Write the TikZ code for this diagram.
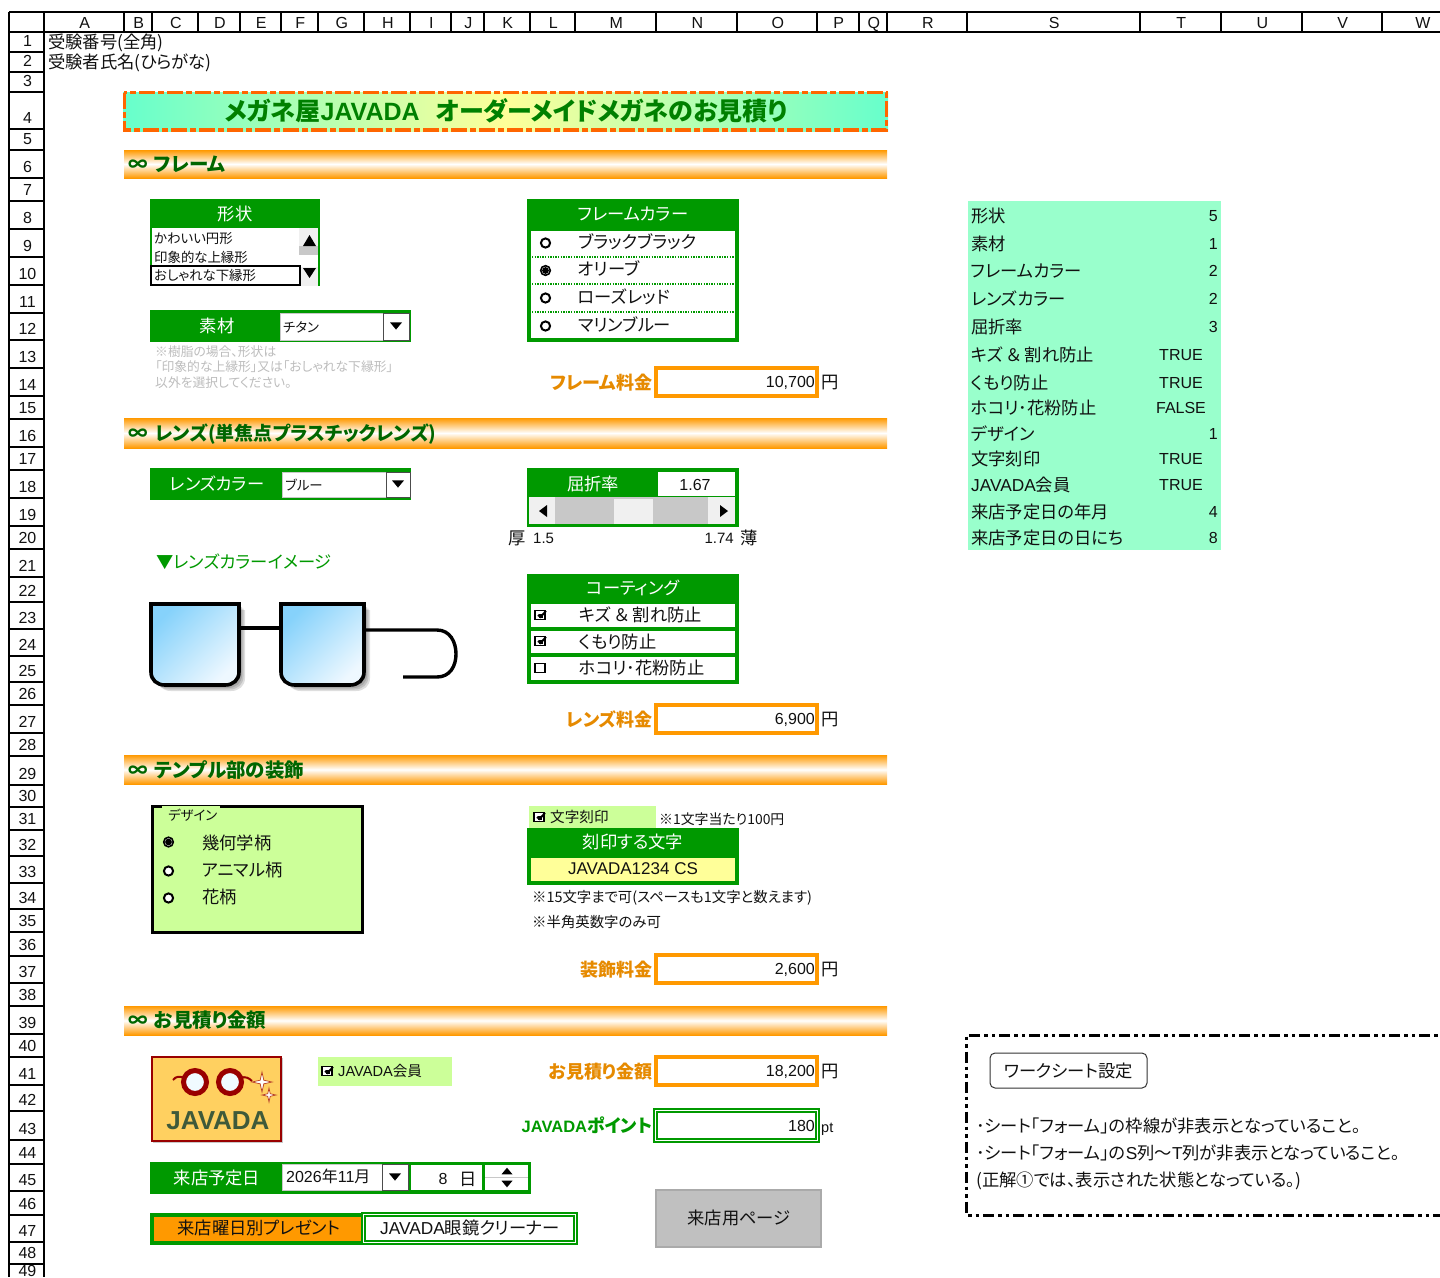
\documentclass[tikz,border=0pt]{standalone}
\usepackage{fontspec}
\setmainfont[RawFeature={+palt}]{Noto Sans CJK JP}
\newfontfamily\lat{Liberation Sans}
\definecolor{frmgreen}{HTML}{009900}
\definecolor{ttlgreen}{HTML}{008000}
\definecolor{secgreen}{HTML}{006600}
\definecolor{frmorange}{HTML}{FF9900}
\definecolor{lblorange}{HTML}{E68A00}
\definecolor{dashorange}{HTML}{FF6600}
\definecolor{mint}{HTML}{99FFCC}
\definecolor{ttlmint}{HTML}{66FFCC}
\definecolor{ttlyellow}{HTML}{FFFF99}
\definecolor{lime}{HTML}{CCFF99}
\definecolor{ctlgray}{HTML}{C8C8C8}
\definecolor{btngray}{HTML}{F0F0F0}
\definecolor{notegray}{HTML}{BDBDBD}
\definecolor{txtblack}{HTML}{111111}
\definecolor{logored}{HTML}{990000}
\definecolor{logofill}{HTML}{FFD060}
\definecolor{logotext}{HTML}{3F5A3A}
\definecolor{lensblue}{HTML}{86D2FB}
\definecolor{lenspale}{HTML}{EEF8FF}
\newcommand{\trdn}[3][5]{\fill (#2-#1,#3-#1*0.6) -- (#2+#1,#3-#1*0.6) -- (#2,#3+#1*0.6) -- cycle;}
\newcommand{\trup}[3][5]{\fill (#2-#1,#3+#1*0.6) -- (#2+#1,#3+#1*0.6) -- (#2,#3-#1*0.6) -- cycle;}
\newcommand{\trlf}[2]{\fill (#1+4,#2-6) -- (#1+4,#2+6) -- (#1-4,#2) -- cycle;}
\newcommand{\trrt}[2]{\fill (#1-4,#2-6) -- (#1-4,#2+6) -- (#1+4,#2) -- cycle;}
\newcommand{\radoff}[2]{\draw[line width=2pt,fill=white] (#1,#2) circle (4.6);}
\newcommand{\radon}[2]{\draw[line width=1.6pt,fill=white] (#1,#2) circle (4.8);\fill (#1,#2) circle (3.4);}
\newcommand{\chkoff}[2]{\draw[line width=1.8pt,fill=white] (#1-5,#2-4.5) rectangle (#1+5,#2+4.5);}
\newcommand{\chkon}[2]{\draw[line width=1.8pt,fill=white] (#1-5,#2-4.5) rectangle (#1+5,#2+4.5);\draw[line width=2pt] (#1-2,#2) -- (#1+0.5,#2+2) -- (#1+6,#2-4);\fill (#1-1.5,#2-1) rectangle (#1+2.5,#2+3);}
\newcommand{\spark}[3]{\draw[draw=logored!70!logofill,line width=.7pt,fill=white] (#1,#2-#3) -- (#1+.18*#3,#2-.18*#3) -- (#1+#3,#2) -- (#1+.18*#3,#2+.18*#3) -- (#1,#2+#3) -- (#1-.18*#3,#2+.18*#3) -- (#1-#3,#2) -- (#1-.18*#3,#2-.18*#3) -- cycle;}
\newcommand{\lensat}[2]{(#1,604) -- (#2,604) -- (#2,672) .. controls (#2,680) and (#2-6,685) .. (#2-14,685) -- (#1+14,685) .. controls (#1+6,685) and (#1,680) .. (#1,672) -- cycle}
\tikzset{
  x=1pt,y=-1pt,
  fsix/.style={font=\fontsize{17.3}{17.3}\selectfont,yshift=-6.8pt,inner sep=0pt,text=txtblack},
  flat/.style={font=\lat\fontsize{16}{16}\selectfont,yshift=-5.6pt,inner sep=0pt,text=txtblack},
  ffou/.style={font=\fontsize{13.4}{13.4}\selectfont,yshift=-5pt,inner sep=0pt,text=txtblack},
  fmid/.style={font=\fontsize{14.6}{14.6}\selectfont,yshift=-5.4pt,inner sep=0pt,text=txtblack},
  fthr/.style={font=\fontsize{14.4}{14.4}\selectfont,yshift=-5.2pt,inner sep=0pt,text=txtblack},
  fnote/.style={font=\fontsize{12.8}{12.8}\selectfont,yshift=-4.6pt,inner sep=0pt,text=notegray},
  fbold/.style={font=\fontsize{18}{18}\bfseries\selectfont,yshift=-6.4pt,inner sep=0pt},
  fsec/.style={font=\fontsize{19.5}{19.5}\bfseries\selectfont,yshift=-7pt,inner sep=0pt,text=secgreen,anchor=base west},
  lw/.style={anchor=base west},
  rt/.style={anchor=base east},
  ct/.style={anchor=base},
  wtxt/.style={text=white},
  hdr/.style={line width=1.3pt,draw=black},
  secbar/.style={top color=frmorange,bottom color=frmorange,middle color=white},
  feebox/.style={draw=frmorange,line width=3.8pt,fill=white},
  dblbox/.style={draw=frmgreen,line width=4.6pt,fill=white},
  dblin/.style={draw=white,line width=1.4pt},
  dashframe/.style={draw=black,line width=3pt,dash pattern=on 11pt off 4pt on 3.5pt off 4pt on 3.5pt off 4pt},
}
\begin{document}
\begin{tikzpicture}
\useasboundingbox (0,0) rectangle (1440,1277);
\fill[white] (0,0) rectangle (1440,1277);
% column header
\foreach \l/\a/\b in {A/44/124,B/124/152,C/152/198,D/198/240,E/240/281,F/281/318,G/318/364,H/364/410,I/410/451,J/451/484,K/484/530,L/530/575,M/575/656,N/656/737,O/737/817,P/817/859,Q/859/887,R/887/967,S/967/1140,T/1140/1221,U/1221/1302,V/1302/1382,W/1382/1462}{
  \draw[hdr] (\b,12) -- (\b,32);
  \node[flat,ct] (col\l) at ({(\a+\b)/2+0.8},22.5) {\l};
}
\draw[hdr] (9,12) -- (1440,12);
\draw[hdr] (9,32) -- (1440,32);
\draw[hdr] (9,12) -- (9,1277);
\draw[hdr] (44,12) -- (44,1277);
% row header
\foreach \n/\y in {1/52,2/72,3/92,4/129,5/150,6/178,7/201,8/229,9/257,10/285,11/313,12/340,13/368,14/396,15/419,16/447,17/470,18/498,19/526,20/549,21/577,22/602,23/629,24/656,25/682,26/705,27/733,28/756,29/785,30/807,31/830,32/856,33/883,34/909,35/932,36/956,37/983,38/1006,39/1034,40/1057,41/1085,42/1111,43/1140,44/1164,45/1191,46/1215,47/1242,48/1264}{
  \draw[hdr] (9,\y) -- (44,\y);
  \node[flat,ct] (row\n) at (27.5,\y-11.5) {\n};
}
\node[flat,ct] (row49) at (27.5,1270.5) {49};
\node[fsix,lw] (exam) at (48,42) {受験番号(全角)};
\node[fsix,lw] (name) at (48,62) {受験者氏名(ひらがな)};
% title
\shade[left color=ttlmint,right color=ttlmint,middle color=ttlyellow] (123,92) rectangle (888,131);
\draw[draw=dashorange,line width=3.4pt,dash pattern=on 16pt off 3pt on 6pt off 3pt] (124.3,92.7) rectangle (886.3,129.8);
\node[font=\fontsize{25}{25}\bfseries\selectfont,inner sep=0pt,text=ttlgreen,anchor=base,yshift=-9pt] (title) at (506,111) {メガネ屋{\lat JAVADA}\hspace{16pt}オーダーメイドメガネのお見積り};
% section bars
\foreach \a/\b in {150/178,418/448,755/784,1006/1035}{\shade[secbar] (124,\a) rectangle (887,\b);}
\node[fsec] (secinfa) at (128,164) {∞};
\node[fsec] (seca) at (154,164) {フレーム};
\node[fsec] (secinfb) at (128,433) {∞};
\node[fsec,font=\fontsize{19}{19}\bfseries\selectfont] (secb) at (155,433) {レンズ(単焦点プラスチックレンズ)};
\node[fsec] (secinfc) at (128,770) {∞};
\node[fsec] (secc) at (154,770) {テンプル部の装飾};
\node[fsec] (secinfd) at (128,1020) {∞};
\node[fsec] (secd) at (154,1020) {お見積り金額};
% shape list
\fill[frmgreen] (150,199) rectangle (320,286);
\fill[white] (152,228) rectangle (318,286);
\fill[btngray] (299,228) rectangle (318,286);
\fill[ctlgray] (299,246) rectangle (318,255);
\fill[white] (299,255) rectangle (318,267);
\fill (303,246) -- (316,246) -- (309.5,235) -- cycle;
\fill (303,268) -- (316,268) -- (309.5,278) -- cycle;
\node[fsix,ct,wtxt] (katach) at (235,214) {形状};
\node[ffou,lw] (shapea) at (154,238) {かわいい円形};
\node[ffou,lw] (shapeb) at (154,257) {印象的な上縁形};
\draw[black,line width=2pt,fill=white] (151,266) rectangle (299.5,285);
\node[ffou,lw] (shapec) at (154,275) {おしゃれな下縁形};
% material
\fill[frmgreen] (150,310) rectangle (411,342);
\draw[fill=white,draw=ctlgray,line width=.8pt] (280.5,313) rectangle (383,340);
\draw[fill=white,draw=black!70,line width=.8pt] (383,313) rectangle (409,340);
\trdn[6]{396}{326}
\node[fsix,ct,wtxt] (sozai) at (217,326) {素材};
\node[ffou,lw] (sozaiv) at (283,327) {チタン};
\node[fnote,lw] (notea) at (155,352) {※樹脂の場合、形状は};
\node[fnote,lw] (noteb) at (155,367) {「印象的な上縁形」又は「おしゃれな下縁形」};
\node[fnote,lw] (notec) at (155,383) {以外を選択してください。};
% frame colour
\fill[frmgreen] (527,199) rectangle (739,342);
\fill[white] (531,231) rectangle (735,338);
\foreach \y in {257,284,312}{\draw[frmgreen,line width=1.3pt,dash pattern=on 1.3pt off 1.3pt] (532,\y) -- (735,\y);}
\node[fsix,ct,wtxt] (fch) at (633,214) {フレームカラー};
\radoff{545.5}{243}\radon{545.5}{270.5}\radoff{545.5}{298}\radoff{545.5}{326}
\node[fsix,lw] (fca) at (578,242) {ブラックブラック};
\node[fsix,lw] (fcb) at (578,269) {オリーブ};
\node[fsix,lw] (fcc) at (578,297) {ローズレッド};
\node[fsix,lw] (fcd) at (578,325) {マリンブルー};
% fee frame
\draw[feebox] (656,368) rectangle (817,396);
\node[fbold,rt,text=lblorange] (ffl) at (652.5,383) {フレーム料金};
\node[flat,rt] (ffv) at (815,382) {10,700};
\node[fsix,lw] (ffu) at (821,382) {円};
% lens colour
\fill[frmgreen] (150,468) rectangle (411,500);
\draw[fill=white,draw=ctlgray,line width=.8pt] (282.5,472) rectangle (386,497);
\draw[fill=white,draw=black!70,line width=.8pt] (386,472) rectangle (410,497);
\trdn[6]{398}{484}
\node[fsix,ct,wtxt] (lcl) at (217,484) {レンズカラー};
\node[ffou,lw] (lcv) at (285,485) {ブルー};
% refraction
\fill[frmgreen] (527,468) rectangle (739,527);
\fill[white] (658,472) rectangle (735,496);
\fill[ctlgray] (529,497) rectangle (735,524);
\fill[btngray] (529,497) rectangle (555,524);
\fill[btngray] (708,497) rectangle (735,524);
\fill[btngray] (614,499) rectangle (653,524);
\trlf{543}{511}
\trrt{724}{511}
\node[fsix,ct,wtxt] (rfl) at (593,484) {屈折率};
\node[flat,ct] (rfv) at (695,485) {1.67};
\node[fsix,lw] (thick) at (508,538) {厚};
\node[ffou,lw,font=\lat\fontsize{15}{15}\selectfont] (ralo) at (533,538) {1.5};
\node[ffou,rt,font=\lat\fontsize{15}{15}\selectfont] (rahi) at (734,538) {1.74};
\node[fsix,rt] (thin) at (757.5,538) {薄};
\node[fsix,lw,text=frmgreen] (lcimg) at (156,562) {▼レンズカラーイメージ};
% glasses
\foreach \g in {1.5,3,4.5,6}{
  \begin{scope}[xshift=\g pt,yshift=-\g pt]
  \fill[black,opacity=.13] \lensat{151}{239};
  \fill[black,opacity=.13] \lensat{281}{364};
  \end{scope}
}
\draw[line width=3.4pt] (239,628) -- (281,628);
\draw[line width=3.4pt] (364,630) -- (437,630) .. controls (450,630) and (456,642) .. (456,654) .. controls (456,666) and (450,677) .. (437,677) -- (403,677);
\draw[line width=3.6pt,left color=lensblue,right color=lenspale,shading angle=45] \lensat{151}{239};
\draw[line width=3.6pt,left color=lensblue,right color=lenspale,shading angle=45] \lensat{281}{364};
% coating
\fill[frmgreen] (527,574) rectangle (739,684);
\fill[white] (531,604) rectangle (735,627);
\fill[white] (531,631) rectangle (735,653);
\fill[white] (531,657) rectangle (735,680);
\node[fsix,ct,wtxt] (ctl) at (633,588) {コーティング};
\chkon{540}{615}\chkon{540}{641}\chkoff{540}{668}
\node[fsix,lw] (cta) at (579,615) {キズ\hspace{3.5pt}＆\hspace{3.5pt}割れ防止};
\node[fsix,lw] (ctb) at (579,642) {くもり防止};
\node[fsix,lw] (ctc) at (579,668) {ホコリ･花粉防止};
\draw[feebox] (656,705) rectangle (817,733);
\node[fbold,rt,text=lblorange] (lfl) at (652.5,720) {レンズ料金};
\node[flat,rt] (lfv) at (815,719) {6,900};
\node[fsix,lw] (lfu) at (821,719) {円};
% design
\draw[black,line width=3pt,fill=lime] (152.5,806.5) rectangle (362.5,932.5);
\fill[lime] (162,806) rectangle (220,809);
\node[ffou,lw] (dsl) at (168,815) {デザイン};
\radon{168.5}{842}\radoff{168.5}{871}\radoff{168.5}{898}
\node[fsix,lw] (dsa) at (202,843) {幾何学柄};
\node[fsix,lw] (dsb) at (202,870) {アニマル柄};
\node[fsix,lw] (dsc) at (202,897) {花柄};
% engraving
\fill[lime] (529,806) rectangle (656,828);
\chkon{539}{817}
\node[fmid,lw] (egc) at (550,817) {文字刻印};
\node[font=\fontsize{13.9}{13.9}\selectfont,yshift=-5pt,inner sep=0pt,text=txtblack,lw] (egn) at (659,819) {※1文字当たり100円};
\fill[frmgreen] (527,828) rectangle (739,885);
\fill[ttlyellow] (531,858) rectangle (735,881);
\node[fsix,ct,wtxt] (egl) at (633,842) {刻印する文字};
\node[flat,ct,font=\lat\fontsize{17}{17}\selectfont] (egv) at (633,869) {JAVADA1234 CS};
\node[fthr,lw] (ega) at (532,897) {※15文字まで可(スペースも1文字と数えます)};
\node[fthr,lw] (egb) at (532,922) {※半角英数字のみ可};
\draw[feebox] (656,955) rectangle (817,983);
\node[fbold,rt,text=lblorange] (dfl) at (652.5,970) {装飾料金};
\node[flat,rt] (dfv) at (815,969) {2,600};
\node[fsix,lw] (dfu) at (821,969) {円};
% logo
\fill[ctlgray] (153,1058) rectangle (283,1143);
\draw[draw=logored,line width=2pt,fill=logofill] (151.5,1056.5) rectangle (280.5,1140.5);
\draw[logored,line width=2pt] (173,1080) .. controls (176,1076) and (180,1076) .. (184,1078);
\draw[logored,line width=2pt] (241,1078) .. controls (245,1076) and (249,1078) .. (252,1081);
\draw[logored,line width=5pt,fill=white!88!lensblue] (195,1082) circle (11.5);
\draw[logored,line width=5pt,fill=white!88!lensblue] (230,1082) circle (11.5);
\spark{262}{1082}{10}
\spark{269}{1095}{7}
\node[font=\lat\fontsize{26}{26}\bfseries\selectfont,inner sep=0pt,text=logotext,anchor=base] (logo) at (218,1129) {JAVADA};
% member
\fill[lime] (318,1057) rectangle (452,1086);
\chkon{327}{1071}
\node[fmid,lw] (mbr) at (338,1071) {{\lat JAVADA}会員};
\draw[feebox] (656,1057) rectangle (817,1085);
\node[fbold,rt,text=lblorange] (efl) at (652.5,1072) {お見積り金額};
\node[flat,rt] (efv) at (815,1071) {18,200};
\node[fsix,lw] (efu) at (821,1071) {円};
\draw[dblbox] (655.3,1110.3) rectangle (817.7,1140.7);
\draw[dblin] (655.3,1110.3) rectangle (817.7,1140.7);
\node[fbold,rt,text=frmgreen] (ptl) at (652.5,1126) {{\lat\fontsize{16.5}{16.5}\bfseries\selectfont JAVADA}ポイント};
\node[flat,rt] (ptv) at (815,1126) {180};
\node[ffou,lw,font=\lat\fontsize{14.5}{14.5}\selectfont] (ptu) at (821,1127) {pt};
% visit date
\fill[frmgreen] (150,1162) rectangle (531,1194);
\draw[fill=white,draw=ctlgray,line width=.8pt] (282.5,1164) rectangle (382,1190);
\draw[fill=white,draw=black!70,line width=.8pt] (382,1164) rectangle (408,1190);
\trdn[6]{395}{1177}
\fill[white] (411,1165) rectangle (482,1190);
\fill[white] (485,1165) rectangle (527.5,1190);
\draw[ctlgray,line width=.8pt] (485,1177.5) -- (527.5,1177.5);
\trup[5.5]{507}{1171}
\trdn[5.5]{507}{1184}
\node[fsix,ct,wtxt] (vdl) at (217,1178) {来店予定日};
\node[flat,lw] (vdm) at (286,1177) {2026{\rmfamily 年}11{\rmfamily 月}};
\node[flat,ct] (vdd) at (443,1179) {8};
\node[fsix,ct] (vdu) at (468,1179) {日};
% present
\fill[frmgreen] (150,1213) rectangle (364,1245);
\fill[frmorange] (154,1217) rectangle (361,1241);
\node[fsix,ct] (prl) at (259,1228) {来店曜日別プレゼント};
\draw[dblbox] (363.3,1214.3) rectangle (575.7,1242.7);
\draw[dblin] (363.3,1214.3) rectangle (575.7,1242.7);
\node[fsix,ct] (prv) at (470,1228) {{\lat JAVADA}眼鏡クリーナー};
% button
\draw[draw=ctlgray!85!black,line width=2pt,fill=ctlgray!96!black] (656,1190) rectangle (821,1247);
\node[fsix,ct] (btn) at (739,1218) {来店用ページ};
% data list
\fill[mint] (967.5,201) rectangle (1221,550);
\foreach \n/\y/\t/\v in {a/216/形状/5,b/244/素材/1,c/271/フレームカラー/2,d/299/レンズカラー/2,e/327/屈折率/3,i/434/デザイン/1,l/512/来店予定日の年月/4,m/538/来店予定日の日にち/8}{
  \node[fsix,lw] (dl\n) at (971,\y) {\t};
  \node[flat,rt] (dv\n) at (1218,\y) {\v};
}
\foreach \n/\y/\t/\v in {f/355/{キズ\hspace{3.5pt}＆\hspace{3.5pt}割れ防止}/TRUE,g/383/くもり防止/TRUE,h/408/ホコリ･花粉防止/FALSE,j/459/文字刻印/TRUE,k/485/{{\lat JAVADA}会員}/TRUE}{
  \node[fsix,lw] (dl\n) at (971,\y) {\t};
  \node[flat,ct] (dv\n) at (1181,\y) {\v};
}
% note frame
\draw[dashframe] (1460,1035) -- (966.5,1035) -- (966.5,1215) -- (1460,1215);
\node[fsix,draw=black!80,line width=1pt,rounded corners=5pt,minimum width=157pt,minimum height=35pt,yshift=6.8pt,anchor=center] (wsb) at (1068.5,1070.5) {ワークシート設定};
\node[fsix,lw] (wsa) at (976,1126) {･シート「フォーム」の枠線が非表示となっていること。};
\node[fsix,lw] (wsc) at (976,1153) {･シート「フォーム」の{\lat S}列〜{\lat T}列が非表示となっていること。};
\node[fsix,lw] (wsd) at (976,1180) {(正解①では、表示された状態となっている。)};
\end{tikzpicture}
\end{document}
